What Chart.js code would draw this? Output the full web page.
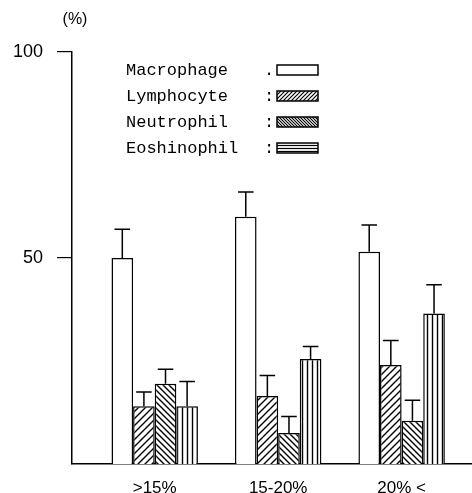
<!DOCTYPE html>
<html><head><meta charset="utf-8">
<script src="https://cdn.jsdelivr.net/npm/chart.js@4"></script>
<style>html,body{margin:0;padding:0;background:#fff}canvas{display:block}</style>
</head><body>
<canvas id="c" width="472" height="493"></canvas>
<script>
// ---- data ----
const categories = ['>15%', '15-20%', '20% <'];
const seriesNames = ['Macrophage', 'Lymphocyte', 'Neutrophil', 'Eoshinophil'];
const legendSeparators = ['.', ':', ':', ':'];
const macrophage = [50, 60, 51.5];
const macrophageErr = [7, 6, 6.5];
const lymphocyte = [14, 16.5, 24];
const lymphocyteErr = [3.5, 5, 6];
const neutrophil = [19.5, 7.5, 10.5];
const neutrophilErr = [3.5, 4, 5];
const eosinophil = [14, 25.5, 36.5];
const eosinophilErr = [6, 3, 7];
const yTickValues = [50, 100];
const yUnit = '(%)';

const canvas = document.getElementById('c');
const mainCtx = canvas.getContext('2d');

function makePattern(kind, s, lw) {
  const c = document.createElement('canvas'); c.width = s; c.height = s;
  const g = c.getContext('2d');
  g.fillStyle = '#fff'; g.fillRect(0, 0, s, s);
  g.strokeStyle = '#000'; g.lineWidth = lw; g.beginPath();
  if (kind === 'slash') {
    g.moveTo(-1, s + 1); g.lineTo(s + 1, -1);
    g.moveTo(-1, 1); g.lineTo(1, -1);
    g.moveTo(s - 1, s + 1); g.lineTo(s + 1, s - 1);
  } else if (kind === 'backslash') {
    g.moveTo(-1, -1); g.lineTo(s + 1, s + 1);
    g.moveTo(s - 1, -1); g.lineTo(s + 1, 1);
    g.moveTo(-1, s - 1); g.lineTo(1, s + 1);
  } else if (kind === 'vertical') {
    g.moveTo(s / 2, 0); g.lineTo(s / 2, s);
  } else if (kind === 'horizontal') {
    g.moveTo(0, s / 2); g.lineTo(s, s / 2);
  }
  g.stroke();
  return mainCtx.createPattern(c, 'repeat');
}

const barPatterns = [
  '#ffffff',
  makePattern('slash', 7, 1.4),
  makePattern('backslash', 6, 1.4),
  makePattern('vertical', 5, 1.4)
];
const legendPatterns = [
  '#ffffff',
  makePattern('slash', 4, 1.2),
  makePattern('backslash', 3, 1.1),
  makePattern('horizontal', 3, 1.2)
];

const values = [macrophage, lymphocyte, neutrophil, eosinophil];
const errors = [macrophageErr, lymphocyteErr, neutrophilErr, eosinophilErr];

const datasets = seriesNames.map((name, i) => ({
  label: name,
  data: values[i].map((v, j) => ({ x: j + 1, y: v })),
  errors: errors[i],
  backgroundColor: barPatterns[i],
  borderColor: '#000',
  borderWidth: 1.5,
  barPercentage: 1.0,
  categoryPercentage: 0.70
}));

const errorBars = {
  id: 'errorBars',
  afterDatasetsDraw(chart) {
    const ctx = chart.ctx, ys = chart.scales.y;
    ctx.save();
    ctx.strokeStyle = '#000'; ctx.lineWidth = 1.5;
    chart.data.datasets.forEach((ds, i) => {
      const meta = chart.getDatasetMeta(i);
      meta.data.forEach((bar, j) => {
        const v = ds.data[j].y, e = ds.errors[j];
        const yTop = ys.getPixelForValue(v + e);
        const yBar = ys.getPixelForValue(v);
        const half = Math.max(5, bar.width * 0.36);
        ctx.beginPath();
        ctx.moveTo(bar.x, yBar); ctx.lineTo(bar.x, yTop);
        ctx.moveTo(bar.x - half, yTop); ctx.lineTo(bar.x + half, yTop);
        ctx.stroke();
      });
    });
    ctx.restore();
  }
};

const customLegend = {
  id: 'customLegend',
  afterDraw(chart) {
    const ctx = chart.ctx, a = chart.chartArea;
    const x0 = a.left + 54, y0 = a.top + 18, step = 26;
    ctx.save();
    ctx.font = '17px "Liberation Mono"';
    ctx.textBaseline = 'middle';
    chart.data.datasets.forEach((ds, i) => {
      const yy = y0 + i * step;
      ctx.fillStyle = '#000'; ctx.textAlign = 'left';
      ctx.fillText(ds.label, x0, yy);
      ctx.fillText(legendSeparators[i], x0 + 138, yy);
      const bx = x0 + 151, bw = 41, bh = 10;
      ctx.fillStyle = legendPatterns[i];
      ctx.fillRect(bx, yy - bh / 2, bw, bh);
      ctx.strokeStyle = '#000'; ctx.lineWidth = 1.5;
      ctx.strokeRect(bx, yy - bh / 2, bw, bh);
    });
    // unit label above y axis
    const ys = chart.scales.y;
    ctx.fillStyle = '#000';
    ctx.font = '16px "Liberation Sans"';
    ctx.textAlign = 'center';
    ctx.fillText(yUnit, ys.right + 3, a.top - 32);
    ctx.restore();
  }
};

new Chart(canvas, {
  type: 'bar',
  data: { datasets },
  options: {
    responsive: false,
    animation: false,
    layout: { padding: { top: 52, left: 0, right: 0, bottom: 0 } },
    plugins: { legend: { display: false }, tooltip: { enabled: false } },
    scales: {
      x: {
        type: 'linear',
        offset: false,
        min: 0.33, max: 3.57,
        afterBuildTicks(s) { s.ticks = categories.map((c, i) => ({ value: i + 1 })); },
        afterFit(s) { s.height = 29; },
        grid: { display: false, offset: false },
        border: { display: true, color: '#000', width: 1.5 },
        ticks: {
          color: '#000', padding: 6, maxRotation: 0, autoSkip: false,
          font: { family: '"Liberation Sans"', size: 17 },
          callback: (v) => categories[Math.round(v) - 1]
        }
      },
      y: {
        min: 0, max: 100,
        afterBuildTicks(s) { s.ticks = yTickValues.map(v => ({ value: v })); },
        afterFit(s) { s.width = 72; },
        grid: { drawOnChartArea: false, drawTicks: true, tickLength: 15, color: '#000', lineWidth: 1.2 },
        border: { display: true, color: '#000', width: 1.5 },
        ticks: {
          color: '#000', padding: 14,
          font: { family: '"Liberation Sans"', size: 18 },
          callback: (v) => String(v)
        }
      }
    }
  },
  plugins: [errorBars, customLegend]
});
</script>
</body></html>
